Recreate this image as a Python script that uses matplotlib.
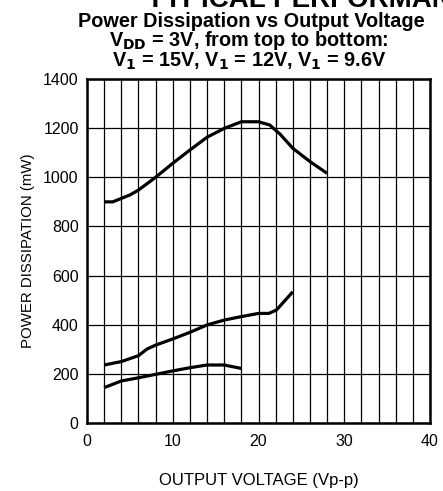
"""
Power dissipation vs output voltage, typical performance curves
"""

import matplotlib as mpl

mpl.use("Agg")
import matplotlib.pyplot as plt

plt.rcParams["font.family"] = ["Liberation Sans", "DejaVu Sans"]

# V1 = 15V (top curve)
v_top = [2, 3, 5, 6, 8, 10, 12, 14, 16, 18, 20, 21.3, 22.5, 24, 26, 28]
p_top = [900, 900, 928, 948, 1000, 1057, 1111, 1163, 1199, 1226, 1226, 1213, 1176, 1118, 1064, 1016]

# V1 = 12V (middle curve)
v_mid = [2, 4, 6, 7, 8, 10, 12, 14, 16, 18, 20, 21.2, 22.1, 24]
p_mid = [236, 250, 274, 301, 317, 342, 369, 399, 419, 433, 446, 446, 460, 534]

# V1 = 9.6V (bottom curve)
v_bot = [2, 4, 6, 8, 10, 12, 14, 16, 18]
p_bot = [144, 171, 184, 198, 212, 225, 236, 236, 222]

x_ticks = [0, 10, 20, 30, 40]
y_ticks = [0, 200, 400, 600, 800, 1000, 1200, 1400]

fig = plt.figure(figsize=(4.43, 4.91), dpi=100)
ax = fig.add_axes([0.1964, 0.1385, 0.7743, 0.7006])

for v, p in [(v_top, p_top), (v_mid, p_mid), (v_bot, p_bot)]:
    ax.plot(v, p, color="black", linewidth=2.3, solid_capstyle="butt", zorder=3)

ax.set_xlim(0, 40)
ax.set_ylim(0, 1400)
ax.set_xticks(x_ticks)
ax.set_yticks(y_ticks)
ax.set_xticks(range(0, 41, 2), minor=True)
ax.grid(True, which="both", axis="x", color="black", linewidth=0.9)
ax.grid(True, which="major", axis="y", color="black", linewidth=0.9)
ax.tick_params(which="both", length=0, labelsize=11.5)
ax.tick_params(axis="x", pad=8)
ax.tick_params(axis="y", pad=6)
for s in ax.spines.values():
    s.set_linewidth(1.8)

ax.set_xlabel("OUTPUT VOLTAGE (Vp-p)", fontsize=12, labelpad=17)
ax.set_ylabel("POWER DISSIPATION (mW)", fontsize=10.8, labelpad=6)

# Titles
fig.text(147 / 443, 1 - 7 / 491, "TYPICAL PERFORMANCE", ha="left", va="baseline",
         fontsize=20, fontweight="bold")
fig.text(251 / 443, 1 - 27 / 491, "Power Dissipation vs Output Voltage", ha="center",
         va="baseline", fontsize=14.3, fontweight="bold")
fig.text(249 / 443, 1 - 46 / 491, r"V$_\mathbf{DD}$ = 3V, from top to bottom:", ha="center",
         va="baseline", fontsize=14.3, fontweight="bold")
fig.text(249 / 443, 1 - 66.5 / 491,
         r"V$_\mathbf{1}$ = 15V, V$_\mathbf{1}$ = 12V, V$_\mathbf{1}$ = 9.6V",
         ha="center", va="baseline", fontsize=14.3, fontweight="bold")

plt.savefig("out.png", dpi=100, facecolor="white")
